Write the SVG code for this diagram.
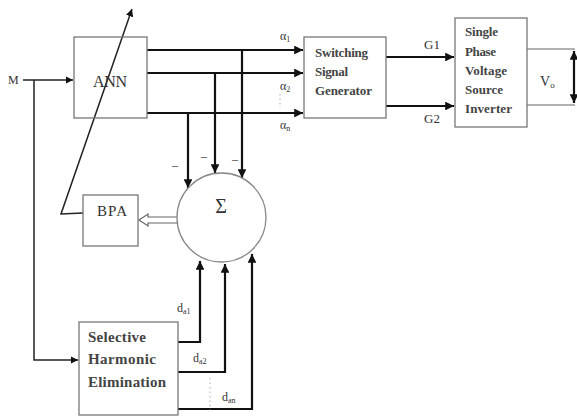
<svg xmlns="http://www.w3.org/2000/svg" width="577" height="417" viewBox="0 0 577 417">
<style>
.box{fill:#fff;stroke:#777;stroke-width:1.3}
.t{font-family:"Liberation Serif","Times New Roman",serif;fill:#333}
.lbl{font-size:12px}
.bt{font-size:13px;font-weight:bold;fill:#444}
.bs{font-size:15px;font-weight:bold;fill:#444}
.thick{fill:none;stroke:#111;stroke-width:2.2}
.mid{fill:none;stroke:#222;stroke-width:1.5}
.thin{fill:none;stroke:#666;stroke-width:1.2}
.dot{fill:none;stroke:#aaa;stroke-width:1;stroke-dasharray:1.5,3}
</style>
<defs>
<marker id="ah" viewBox="0 0 10 10" refX="10" refY="5" markerWidth="4" markerHeight="4" orient="auto-start-reverse" markerUnits="strokeWidth">
<path d="M0,0 L10,5 L0,10 Z" fill="#111"/>
</marker>
<marker id="ahm" viewBox="0 0 10 10" refX="10" refY="5" markerWidth="5" markerHeight="5" orient="auto-start-reverse" markerUnits="strokeWidth">
<path d="M0,0 L10,5 L0,10 Z" fill="#111"/>
</marker>
</defs>
<rect width="577" height="417" fill="#fff"/>

<g id="connectors">
<line class="mid" x1="23" y1="80" x2="73" y2="80" marker-end="url(#ahm)"/>
<polyline class="mid" points="34,80 34,360 78,360" marker-end="url(#ahm)"/>
<line class="thick" x1="147" y1="50" x2="303" y2="50" marker-end="url(#ah)"/>
<line class="thick" x1="147" y1="73" x2="303" y2="73" marker-end="url(#ah)"/>
<line class="thick" x1="147" y1="113" x2="303" y2="113" marker-end="url(#ah)"/>
<line class="thick" x1="242" y1="50" x2="242" y2="178" marker-end="url(#ah)"/>
<line class="thick" x1="215" y1="73" x2="215" y2="173" marker-end="url(#ah)"/>
<line class="thick" x1="188" y1="113" x2="188" y2="188" marker-end="url(#ah)"/>
<line class="thick" x1="386" y1="57" x2="454" y2="57" marker-end="url(#ah)"/>
<line class="thick" x1="386" y1="106" x2="454" y2="106" marker-end="url(#ah)"/>
<polyline class="thin" points="527,49 575,49"/>
<polyline class="thin" points="527,105 575,105"/>
<line class="thick" x1="574" y1="51" x2="574" y2="103" marker-start="url(#ah)" marker-end="url(#ah)"/>
<polyline class="thick" points="178,342 200,342 200,261" marker-end="url(#ah)"/>
<polyline class="thick" points="178,372 225,372 225,264" marker-end="url(#ah)"/>
<polyline class="thick" points="178,409 252,409 252,254" marker-end="url(#ah)"/>
<path d="M177,217 L148,217 L148,214 L139,220 L148,226 L148,223 L177,223" fill="#fff" stroke="#666" stroke-width="1.2"/>
<polyline class="mid" points="83,213 61,214 132,9" marker-end="url(#ahm)"/>
<line class="dot" x1="280" y1="94" x2="280" y2="108"/>
<line class="dot" x1="210" y1="378" x2="210" y2="410"/>
</g>

<g id="ann">
<rect class="box" x="74" y="37" width="73" height="81" fill-opacity="0"/>
<text class="t" x="93" y="87" font-size="16" textLength="34" fill="#555">ANN</text>
</g>
<g id="bpa">
<rect class="box" x="83" y="195" width="55" height="51"/>
<text class="t" x="97" y="216" font-size="15" textLength="30">BPA</text>
</g>
<g id="sum">
<circle cx="221.5" cy="217.5" r="44.5" fill="#fff" stroke="#888" stroke-width="1.3"/>
<text class="t" x="221" y="213" font-size="20" text-anchor="middle" fill="#555">Σ</text>
</g>
<g id="she">
<rect class="box" x="79" y="322" width="99" height="93"/>
<text class="t bs" x="88" y="342" textLength="58">Selective</text>
<text class="t bs" x="88" y="364" textLength="68">Harmonic</text>
<text class="t bs" x="88" y="387" textLength="78">Elimination</text>
</g>
<g id="ssg">
<rect class="box" x="304" y="37" width="82" height="81"/>
<text class="t bt" x="315" y="57" textLength="53">Switching</text>
<text class="t bt" x="315" y="76" textLength="33">Signal</text>
<text class="t bt" x="315" y="95" textLength="57">Generator</text>
</g>
<g id="inv">
<rect class="box" x="455" y="18" width="72" height="109"/>
<text class="t bt" x="465" y="36" textLength="33">Single</text>
<text class="t bt" x="465" y="56" textLength="31">Phase</text>
<text class="t bt" x="465" y="75" textLength="42">Voltage</text>
<text class="t bt" x="465" y="94" textLength="38">Source</text>
<text class="t bt" x="465" y="113" textLength="47">Inverter</text>
</g>

<g id="labels">
<text class="t lbl" x="8" y="84">M</text>
<text class="t" x="280" y="40" font-size="12">α<tspan font-size="8" dy="2">1</tspan></text>
<text class="t" x="280" y="90" font-size="12">α<tspan font-size="8" dy="2">2</tspan></text>
<text class="t" x="280" y="129" font-size="12">α<tspan font-size="8" dy="2">n</tspan></text>
<text class="t" x="432" y="49" font-size="13" text-anchor="middle">G1</text>
<text class="t" x="432" y="123" font-size="13" text-anchor="middle">G2</text>
<text class="t" x="540" y="86" font-size="14">V<tspan font-size="9" dy="2">o</tspan></text>
<text class="t" x="177" y="312" font-size="12">d<tspan font-size="8" dy="2">a1</tspan></text>
<text class="t" x="193" y="362" font-size="12">d<tspan font-size="8" dy="2">a2</tspan></text>
<text class="t" x="222" y="401" font-size="12">d<tspan font-size="8" dy="2">an</tspan></text>
<text class="t" x="175" y="169" font-size="12" text-anchor="middle">–</text>
<text class="t" x="204" y="160" font-size="12" text-anchor="middle">–</text>
<text class="t" x="235" y="163" font-size="12" text-anchor="middle">–</text>
</g>
</svg>
